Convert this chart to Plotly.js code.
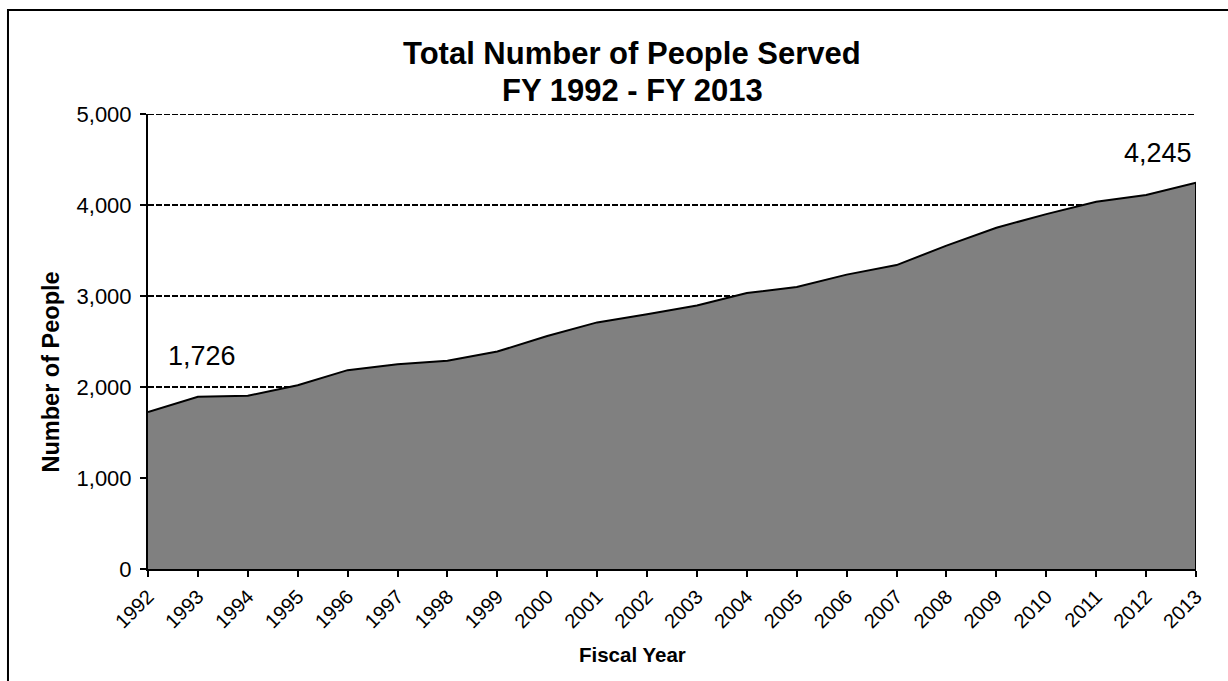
<!DOCTYPE html>
<html>
<head>
<meta charset="utf-8">
<script src="https://cdn.plot.ly/plotly-3.0.1.min.js"></script>
<style>html,body{margin:0;padding:0;background:#fff;}#chart{width:1228px;height:681px;}</style>
</head>
<body>
<div id="chart"></div>
<script>
const years = [1992,1993,1994,1995,1996,1997,1998,1999,2000,2001,2002,2003,2004,2005,2006,2007,2008,2009,2010,2011,2012,2013];
const peopleServed = [1726,1893,1903,2020,2185,2250,2288,2390,2560,2710,2800,2895,3033,3100,3235,3340,3553,3750,3900,4035,4110,4245];
const yTicks = [0,1000,2000,3000,4000,5000];
const titleLine1 = 'Total Number of People Served';
const titleLine2 = 'FY 1992 - FY 2013';
const xTitle = 'Fiscal Year';
const yTitle = 'Number of People';

const font = 'Liberation Sans, Arial, sans-serif';
const lastIdx = years.length - 1;
const yMax = yTicks[yTicks.length - 1];
const fmt = v => v.toLocaleString('en-US');

const trace = {
  x: years,
  y: peopleServed,
  type: 'scatter',
  mode: 'lines',
  fill: 'tozeroy',
  fillcolor: '#808080',
  line: {color: '#000', width: 2},
  hoverinfo: 'x+y'
};

const layout = {
  width: 1228, height: 681,
  margin: {l: 148, r: 32, t: 114, b: 112},
  paper_bgcolor: '#fff', plot_bgcolor: '#fff',
  showlegend: false,
  font: {family: font, color: '#000'},
  xaxis: {
    type: 'linear',
    range: [years[0], years[lastIdx]],
    tickvals: years,
    ticktext: years.map(String),
    tickangle: -45,
    tickfont: {size: 20, family: font, color: '#000'},
    ticks: 'outside', ticklen: 6, tickwidth: 2, tickcolor: '#000',
    showline: true, linecolor: '#000', linewidth: 2,
    showgrid: false, zeroline: false
  },
  yaxis: {
    range: [0, yMax],
    tickvals: yTicks,
    ticktext: yTicks.map(fmt),
    tickfont: {size: 22, family: font, color: '#000'},
    ticklabelstandoff: 4,
    ticks: 'outside', ticklen: 6, tickwidth: 2, tickcolor: '#000',
    showline: true, linecolor: '#000', linewidth: 2,
    showgrid: true, gridcolor: '#000', gridwidth: 2, griddash: '6px,2px',
    zeroline: false
  },
  shapes: [
    {type: 'rect', xref: 'paper', yref: 'paper', x0: -0.1336, x1: 1.2, y0: -0.5, y1: 1.2286,
     line: {color: '#000', width: 2}, fillcolor: 'rgba(0,0,0,0)', layer: 'above'},
    {type: 'line', xref: 'paper', yref: 'y', x0: 0, x1: 1, y0: yMax, y1: yMax,
     line: {color: '#000', width: 2, dash: '6px,2px'}, layer: 'below'},
    {type: 'line', xref: 'x', yref: 'y', x0: years[lastIdx], x1: years[lastIdx], y0: 0, y1: peopleServed[lastIdx],
     line: {color: '#000', width: 2}, layer: 'above'}
  ],
  annotations: [
    {xref: 'paper', yref: 'paper', x: 0.4623, y: 1.1336, text: '<b>' + titleLine1 + '</b>', showarrow: false,
     xanchor: 'center', yanchor: 'middle', font: {size: 31, family: font, color: '#000'}},
    {xref: 'paper', yref: 'paper', x: 0.4623, y: 1.0512, text: '<b>' + titleLine2 + '</b>', showarrow: false,
     xanchor: 'center', yanchor: 'middle', font: {size: 31, family: font, color: '#000'}},
    {xref: 'paper', yref: 'paper', x: 0.4623, y: -0.189, text: '<b>' + xTitle + '</b>', showarrow: false,
     xanchor: 'center', yanchor: 'middle', font: {size: 20.5, family: font, color: '#000'}},
    {xref: 'paper', yref: 'paper', x: -0.0926, y: 0.434, text: '<b>' + yTitle + '</b>', showarrow: false,
     textangle: -90, xanchor: 'center', yanchor: 'middle', font: {size: 23.5, family: font, color: '#000'}},
    {x: years[0], y: peopleServed[0], xref: 'x', yref: 'y', text: fmt(peopleServed[0]), showarrow: false,
     xshift: 54, yshift: 56, font: {size: 27, family: font, color: '#000'}},
    {x: years[lastIdx], y: peopleServed[lastIdx], xref: 'x', yref: 'y', text: fmt(peopleServed[lastIdx]), showarrow: false,
     xshift: -38, yshift: 30, font: {size: 27, family: font, color: '#000'}}
  ]
};

Plotly.newPlot('chart', [trace], layout, {displayModeBar: false, staticPlot: true});
</script>
</body>
</html>
